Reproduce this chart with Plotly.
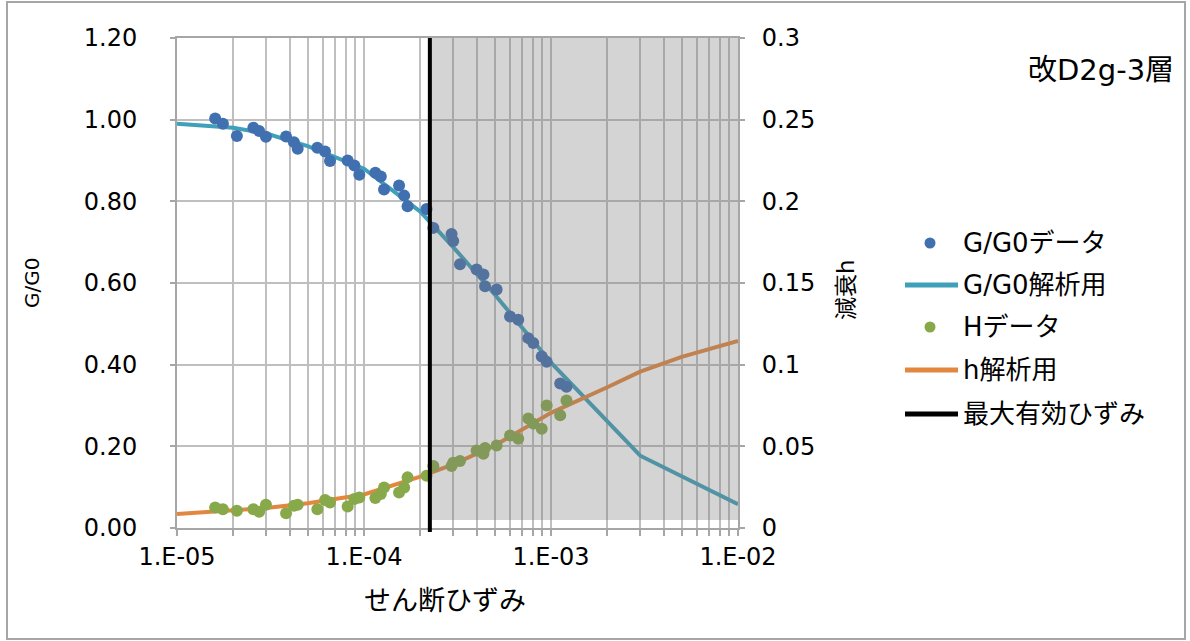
import plotly.graph_objects as go

# ---------------- data ----------------
strain_data = [1.60e-5, 1.76e-5, 2.09e-5, 2.56e-5, 2.75e-5, 2.99e-5, 3.83e-5, 4.22e-5,
               4.42e-5, 5.63e-5, 6.19e-5, 6.58e-5, 8.18e-5, 8.88e-5, 9.44e-5, 1.15e-4,
               1.23e-4, 1.28e-4, 1.54e-4, 1.64e-4, 1.71e-4, 2.16e-4, 2.35e-4, 2.94e-4,
               3.00e-4, 3.26e-4, 4.00e-4, 4.35e-4, 4.44e-4, 5.12e-4, 6.04e-4, 6.68e-4,
               7.56e-4, 8.04e-4, 8.92e-4, 9.48e-4, 1.12e-3, 1.21e-3]
gg_data = [1.003, 0.990, 0.960, 0.980, 0.972, 0.958, 0.959, 0.945,
           0.929, 0.931, 0.922, 0.899, 0.900, 0.888, 0.865, 0.870,
           0.861, 0.829, 0.839, 0.814, 0.788, 0.781, 0.735, 0.720,
           0.703, 0.646, 0.633, 0.621, 0.592, 0.584, 0.518, 0.510,
           0.465, 0.453, 0.420, 0.407, 0.354, 0.346]
h_data = [0.0125, 0.0115, 0.0105, 0.0115, 0.0100, 0.0142, 0.0090, 0.0136,
          0.0142, 0.0115, 0.0171, 0.0156, 0.0131, 0.0177, 0.0187, 0.0183,
          0.0208, 0.0248, 0.0217, 0.0248, 0.0310, 0.0320, 0.0380, 0.0380,
          0.0400, 0.0410, 0.0474, 0.0454, 0.0490, 0.0505, 0.0567, 0.0546,
          0.0670, 0.0639, 0.0608, 0.0750, 0.0690, 0.0780]

strain_gg_model = [1e-5, 2e-5, 3e-5, 5e-5, 1e-4, 2e-4, 3e-4, 5e-4, 1e-3, 3e-3, 1e-2]
gg_model = [0.990, 0.980, 0.966, 0.935, 0.880, 0.775, 0.688, 0.572, 0.405, 0.177, 0.058]
strain_h_model = [1e-5, 2e-5, 3e-5, 5e-5, 1e-4, 2e-4, 3e-4, 5e-4, 1e-3, 2e-3, 3e-3, 5e-3, 1e-2]
h_model = [0.0086, 0.0105, 0.0122, 0.0152, 0.0205, 0.0315, 0.0390, 0.0505, 0.0705, 0.0862,
           0.0957, 0.1048, 0.1145]

max_strain = 2.25e-4
strain_max_axis = 1e-2

x_tickvals = [1e-5, 1e-4, 1e-3, 1e-2]
x_ticktext = ["1.E-05", "1.E-04", "1.E-03", "1.E-02"]
y_tickvals = [0, 0.2, 0.4, 0.6, 0.8, 1.0, 1.2]
y_ticktext = ["0.00", "0.20", "0.40", "0.60", "0.80", "1.00", "1.20"]
y2_tickvals = [0, 0.05, 0.1, 0.15, 0.2, 0.25, 0.3]
y2_ticktext = ["0", "0.05", "0.1", "0.15", "0.2", "0.25", "0.3"]

legend_names = ["G/G0データ", "G/G0解析用", "Hデータ", "h解析用", "最大有効ひずみ"]

# ---------------- style ----------------
C_BLUE = "#4170B0"
C_TEAL = "#3FA0BA"
C_GREEN = "#87A94A"
C_ORANGE = "#E4873E"
GRID = "#BFBFBF"
AXC = "#A6A6A6"
FONT = "DejaVu Sans, Noto Sans CJK JP"

W, H = 1190, 641
L, R, T, B = 177, 452, 38, 113
PW, PH = W - L - R, H - T - B


def px(xp):
    return (xp - L) / PW


def py(yp):
    return (H - B - yp) / PH


fig = go.Figure()
fig.add_trace(go.Scatter(x=strain_gg_model, y=gg_model, mode="lines",
                         line=dict(color=C_TEAL, width=4), name=legend_names[1]))
fig.add_trace(go.Scatter(x=strain_data, y=gg_data, mode="markers",
                         marker=dict(color=C_BLUE, size=12), name=legend_names[0]))
fig.add_trace(go.Scatter(x=strain_h_model, y=h_model, mode="lines", yaxis="y2",
                         line=dict(color=C_ORANGE, width=4), name=legend_names[3]))
fig.add_trace(go.Scatter(x=strain_data, y=h_data, mode="markers", yaxis="y2",
                         marker=dict(color=C_GREEN, size=12), name=legend_names[2]))

shapes = []
# shaded region beyond max effective strain
shapes.append(dict(type="rect", xref="x", yref="paper", layer="above",
                   x0=max_strain, x1=strain_max_axis,
                   y0=py(520), y1=1.0, fillcolor="rgba(120,120,120,0.32)", line=dict(width=0)))
shapes.append(dict(type="line", xref="x", yref="paper", layer="above",
                   x0=max_strain, x1=max_strain,
                   y0=py(532), y1=1.0, line=dict(color="black", width=4)))
# outer chart border
shapes.append(dict(type="rect", xref="paper", yref="paper", layer="below",
                   x0=px(7), x1=px(1185), y0=py(639), y1=py(2),
                   line=dict(color=AXC, width=2), fillcolor="rgba(0,0,0,0)"))

annotations = []
# manual legend
leg_y = [243, 285, 327, 370, 414]
kinds = [("marker", C_BLUE), ("line", C_TEAL), ("marker", C_GREEN), ("line", C_ORANGE), ("line", "black")]
for (kind, col), yy, name in zip(kinds, leg_y, legend_names):
    if kind == "marker":
        shapes.append(dict(type="circle", xref="paper", yref="paper", xsizemode="pixel", ysizemode="pixel",
                           xanchor=px(930), yanchor=py(yy), x0=-5.5, x1=5.5, y0=-5.5, y1=5.5,
                           fillcolor=col, line=dict(width=0)))
    else:
        shapes.append(dict(type="line", xref="paper", yref="paper",
                           x0=px(905), x1=px(958), y0=py(yy), y1=py(yy),
                           line=dict(color=col, width=5)))
    annotations.append(dict(text=name, xref="paper", yref="paper", x=px(961), y=py(yy),
                            xanchor="left", yanchor="middle", showarrow=False,
                            font=dict(size=26, color="black", family=FONT)))

annotations.append(dict(text="改D2g-3層", xref="paper", yref="paper", x=px(1176), y=py(70),
                        xanchor="right", yanchor="middle", showarrow=False,
                        font=dict(size=29, color="black", family=FONT)))
annotations.append(dict(text="せん断ひずみ", xref="paper", yref="paper", x=px(445), y=py(600),
                        xanchor="center", yanchor="middle", showarrow=False,
                        font=dict(size=27, color="black", family=FONT)))
annotations.append(dict(text="G/G0", xref="paper", yref="paper", x=px(32), y=py(283),
                        xanchor="center", yanchor="middle", showarrow=False, textangle=-90,
                        font=dict(size=20, color="black", family=FONT)))
annotations.append(dict(text="減衰h", xref="paper", yref="paper", x=px(846), y=py(290),
                        xanchor="center", yanchor="middle", showarrow=False, textangle=-90,
                        font=dict(size=23, color="black", family=FONT)))

fig.update_layout(
    width=W, height=H,
    margin=dict(l=L, r=R, t=T, b=B, pad=0),
    paper_bgcolor="white", plot_bgcolor="white",
    showlegend=False,
    font=dict(family=FONT, size=24, color="black"),
    shapes=shapes, annotations=annotations,
    xaxis=dict(type="log", range=[-5, -2], tickvals=x_tickvals, ticktext=x_ticktext,
               showgrid=True, gridcolor=GRID, gridwidth=2,
               showline=True, linecolor=AXC, linewidth=2, mirror=True,
               ticks="outside", ticklen=6, tickcolor=AXC, tickwidth=2,
               ticklabelstandoff=0,
               minor=dict(dtick="D1", showgrid=True, gridcolor=GRID, gridwidth=2,
                          ticks="outside", ticklen=6, tickcolor=AXC, tickwidth=2),
               tickfont=dict(size=24, family=FONT), zeroline=False),
    yaxis=dict(range=[0, 1.2], tickvals=y_tickvals, ticktext=y_ticktext,
               showgrid=True, gridcolor=GRID, gridwidth=2,
               showline=True, linecolor=AXC, linewidth=2,
               ticks="outside", ticklen=5, tickcolor=AXC, tickwidth=2,
               ticklabelstandoff=28,
               tickfont=dict(size=24, family=FONT), zeroline=False),
    yaxis2=dict(range=[0, 0.3], overlaying="y", side="right",
                tickvals=y2_tickvals, ticktext=y2_ticktext, showgrid=False,
                showline=True, linecolor=AXC, linewidth=2,
                ticks="outside", ticklen=5, tickcolor=AXC, tickwidth=2,
                ticklabelstandoff=12,
                tickfont=dict(size=24, family=FONT), zeroline=False),
)

fig.write_html("out.html", config={"displayModeBar": False},
               post_script="document.body.style.margin='0px';")
